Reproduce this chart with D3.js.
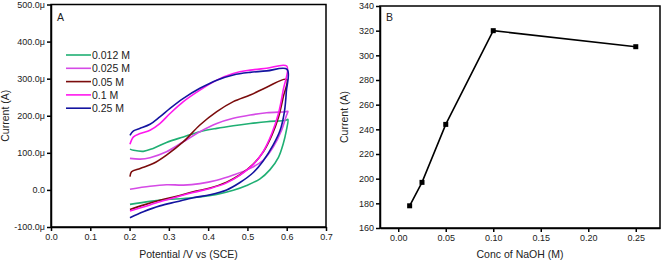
<!DOCTYPE html>
<html>
<head>
<meta charset="utf-8">
<script src="https://cdn.jsdelivr.net/npm/d3@7"></script>
<style>
    body { margin: 0; background: #fff; }
    svg { font-family: 'Liberation Sans', Arial, sans-serif; }
    .axis path, .axis line { stroke: #000; stroke-width: 1.5px; }
    .axis text { font-size: 9px; fill: #222; }
    .title { font-size: 10.5px; fill: #222; }
</style>
</head>
<body>
<svg id="chart" width="663" height="262"></svg>
<script>
// Panel A: cyclic voltammograms, [potential V, current µA], lower branch then upper branch
const cvLabels = ['0.012 M', '0.025 M', '0.05 M', '0.1 M', '0.25 M'];
const cvColors = ['#1faf73', '#d54ae6', '#7b0c0c', '#ff17ee', '#1414a0'];

const cv012 = [
    [0.201, -39], [0.252, -31], [0.294, -26], [0.337, -23], [0.379, -19], [0.422, -12],
    [0.464, -1], [0.498, 12], [0.532, 30], [0.557, 54], [0.579, 88], [0.591, 124],
    [0.599, 160], [0.603, 190],
    [0.598, 188], [0.549, 184], [0.507, 179], [0.464, 173], [0.422, 166], [0.379, 157],
    [0.337, 143], [0.294, 128], [0.26, 112], [0.235, 104], [0.21, 107], [0.201, 110]
];
const cv025 = [
    [0.201, 2], [0.252, 10], [0.294, 14], [0.337, 13], [0.379, 17], [0.422, 26],
    [0.464, 40], [0.507, 58], [0.54, 80], [0.566, 116], [0.587, 161], [0.599, 200],
    [0.603, 212],
    [0.598, 211], [0.549, 208], [0.507, 202], [0.464, 193], [0.422, 179], [0.379, 157],
    [0.337, 130], [0.294, 103], [0.252, 87], [0.227, 83], [0.201, 85]
];
const cv05 = [
    [0.201, -53], [0.235, -41], [0.277, -28], [0.32, -17], [0.362, -5], [0.405, 5],
    [0.447, 21], [0.481, 41], [0.515, 70], [0.54, 102], [0.562, 147], [0.579, 196],
    [0.591, 250], [0.6, 298],
    [0.549, 277], [0.507, 256], [0.464, 238], [0.422, 211], [0.379, 175], [0.337, 130],
    [0.294, 94], [0.26, 71], [0.227, 58], [0.205, 49], [0.201, 36]
];
const cv1 = [
    [0.201, -57], [0.235, -46], [0.277, -32], [0.32, -19], [0.362, -7], [0.405, 4],
    [0.447, 19], [0.481, 40], [0.515, 69], [0.54, 103], [0.562, 152], [0.579, 206],
    [0.591, 269], [0.6, 334],
    [0.549, 328], [0.507, 323], [0.464, 314], [0.422, 296], [0.379, 269], [0.337, 238],
    [0.303, 206], [0.277, 179], [0.252, 161], [0.227, 152], [0.21, 143], [0.201, 123]
];
const cv25 = [
    [0.201, -75], [0.235, -59], [0.277, -43], [0.32, -32], [0.362, -21], [0.405, -13],
    [0.447, 0], [0.481, 20], [0.515, 47], [0.54, 78], [0.566, 122], [0.583, 160],
    [0.594, 210], [0.599, 265], [0.601, 325],
    [0.549, 321], [0.507, 317], [0.464, 310], [0.422, 296], [0.379, 274], [0.337, 247],
    [0.303, 220], [0.277, 197], [0.252, 177], [0.227, 166], [0.21, 159], [0.201, 147]
];
const cvSeries = [cv012, cv025, cv05, cv1, cv25];

const cvXTicks = [0, 0.1, 0.2, 0.3, 0.4, 0.5, 0.6, 0.7];
const cvYTicks = [-100, 0, 100, 200, 300, 400, 500];

// Panel B: peak current vs NaOH concentration
const concValues = [0.012, 0.025, 0.05, 0.1, 0.25];
const peakCurrent = [178, 197, 244, 320, 307];
const concTicks = [0, 0.05, 0.1, 0.15, 0.2, 0.25];
const peakTicks = [160, 180, 200, 220, 240, 260, 280, 300, 320, 340];

const svg = d3.select('#chart');

// ---------- Panel A ----------
const a = { left: 51, right: 326, top: 4.5, bottom: 227 };

const xA = d3.scaleLinear().domain([0, 0.7]).range([a.left, a.right]);
const yA = d3.scaleLinear().domain([-100, 500]).range([a.bottom, a.top]);

svg.append('rect')
    .attr('x', a.left).attr('y', a.top)
    .attr('width', a.right - a.left).attr('height', a.bottom - a.top)
    .attr('fill', 'none').attr('stroke', '#000').attr('stroke-width', 1.5);

svg.append('g')
    .attr('class', 'axis')
    .attr('transform', `translate(0, ${a.bottom})`)
    .call(d3.axisBottom(xA).tickValues(cvXTicks).tickFormat(d3.format('.1f')).tickSize(4).tickSizeOuter(0).tickPadding(3));

svg.append('g')
    .attr('class', 'axis')
    .attr('transform', `translate(${a.left}, 0)`)
    .call(d3.axisLeft(yA).tickValues(cvYTicks)
        .tickFormat(d => (d === 0 ? '0.0' : d.toFixed(1) + 'μ'))
        .tickSize(4).tickSizeOuter(0).tickPadding(2));

const lineA = d3.line()
    .x(d => xA(d[0]))
    .y(d => yA(d[1]))
    .curve(d3.curveCatmullRom.alpha(0.5));

svg.append('g')
    .selectAll('path')
    .data(cvSeries)
    .enter()
    .append('path')
    .attr('d', lineA)
    .attr('fill', 'none')
    .attr('stroke', (d, i) => cvColors[i])
    .attr('stroke-width', 1.6);

// Legend
const legend = svg.append('g').attr('transform', 'translate(66, 55)');
cvLabels.forEach((label, i) => {
    const row = legend.append('g').attr('transform', `translate(0, ${i * 13.3})`);
    row.append('line')
        .attr('x1', 0).attr('x2', 25)
        .attr('stroke', cvColors[i]).attr('stroke-width', 1.6);
    row.append('text')
        .attr('x', 26).attr('y', 4)
        .attr('class', 'title')
        .text(label);
});

svg.append('text').attr('class', 'title').attr('x', 57).attr('y', 21).text('A');

svg.append('text')
    .attr('class', 'title')
    .attr('text-anchor', 'middle')
    .attr('x', xA(0.35)).attr('y', 258)
    .text('Potential /V vs (SCE)');

svg.append('text')
    .attr('class', 'title')
    .attr('text-anchor', 'middle')
    .attr('transform', `translate(9, ${(a.top + a.bottom) / 2}) rotate(-90)`)
    .text('Current (A)');

// ---------- Panel B ----------
const b = { left: 380, right: 660, top: 6, bottom: 228 };

const xB = d3.scaleLinear().domain([-0.0192, 0.2755]).range([b.left, b.right]);
const yB = d3.scaleLinear().domain([160, 340]).range([b.bottom, b.top]);

svg.append('rect')
    .attr('x', b.left).attr('y', b.top)
    .attr('width', b.right - b.left).attr('height', b.bottom - b.top)
    .attr('fill', 'none').attr('stroke', '#000').attr('stroke-width', 1.5);

svg.append('g')
    .attr('class', 'axis')
    .attr('transform', `translate(0, ${b.bottom})`)
    .call(d3.axisBottom(xB).tickValues(concTicks).tickFormat(d3.format('.2f')).tickSize(4).tickSizeOuter(0).tickPadding(3));

svg.append('g')
    .attr('class', 'axis')
    .attr('transform', `translate(${b.left}, 0)`)
    .call(d3.axisLeft(yB).tickValues(peakTicks).tickSize(4).tickSizeOuter(0).tickPadding(2));

const pointsB = concValues.map((c, i) => [c, peakCurrent[i]]);

svg.append('path')
    .datum(pointsB)
    .attr('d', d3.line().x(d => xB(d[0])).y(d => yB(d[1])))
    .attr('fill', 'none')
    .attr('stroke', '#000')
    .attr('stroke-width', 1.6);

svg.append('g')
    .selectAll('rect')
    .data(pointsB)
    .enter()
    .append('rect')
    .attr('x', d => xB(d[0]) - 2.5)
    .attr('y', d => yB(d[1]) - 2.5)
    .attr('width', 5)
    .attr('height', 5)
    .attr('fill', '#000');

svg.append('text').attr('class', 'title').attr('x', 386).attr('y', 21).text('B');

svg.append('text')
    .attr('class', 'title')
    .attr('text-anchor', 'middle')
    .attr('x', (b.left + b.right) / 2).attr('y', 258)
    .text('Conc of NaOH (M)');

svg.append('text')
    .attr('class', 'title')
    .attr('text-anchor', 'middle')
    .attr('transform', `translate(348, ${(b.top + b.bottom) / 2}) rotate(-90)`)
    .text('Current (A)');
</script>
</body>
</html>
